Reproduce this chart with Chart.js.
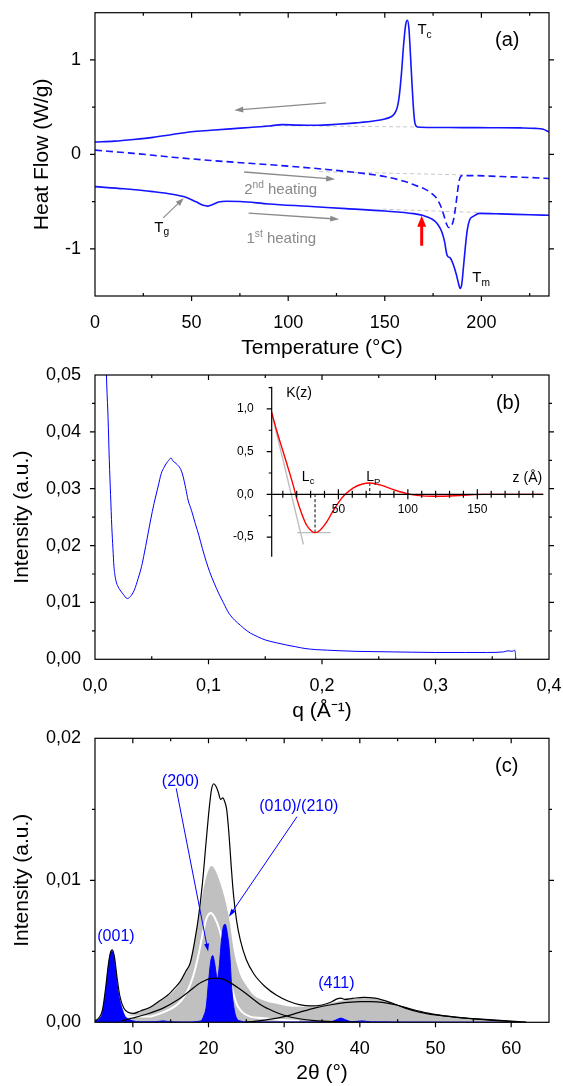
<!DOCTYPE html>
<html>
<head>
<meta charset="utf-8">
<script src="https://cdn.jsdelivr.net/npm/chart.js@4.4.1/dist/chart.umd.min.js"></script>
<style>
  html, body { margin: 0; padding: 0; background: #fff; }
  #wrap { position: relative; width: 563px; height: 1086px; overflow: hidden; }
  canvas { position: absolute; left: 0; }
</style>
</head>
<body>
<div id="wrap">
  <canvas id="dsc" width="563" height="362" style="top:0"></canvas>
  <canvas id="saxs" width="563" height="363" style="top:362px"></canvas>
  <canvas id="inset" width="333" height="185" style="top:380px;left:220px"></canvas>
  <canvas id="waxs" width="563" height="361" style="top:725px"></canvas>
</div>
<script>
// ---- (a) DSC data: temperature (°C) / heat flow (W/g)
const coolT  = [0, 10, 20, 30, 40, 50, 60, 70, 80, 90, 97, 105, 115, 125, 135, 145, 150, 153, 155, 156.5, 157.5, 158.6, 159.7, 160.8, 161.7, 162.5, 163.3, 164.0, 164.8, 165.6, 166.9, 175, 190, 205, 220, 228, 232, 235];
const coolHF = [0.13, 0.14, 0.158, 0.18, 0.21, 0.24, 0.255, 0.27, 0.285, 0.30, 0.315, 0.31, 0.308, 0.318, 0.333, 0.355, 0.375, 0.395, 0.43, 0.5, 0.62, 0.85, 1.15, 1.37, 1.42, 1.33, 1.05, 0.78, 0.5, 0.33, 0.29, 0.285, 0.283, 0.282, 0.28, 0.275, 0.265, 0.236];

const heat2T  = [0, 20, 40, 60, 80, 100, 120, 140, 150, 160, 166, 170, 174, 177, 179, 180.5, 182, 183, 184, 185.5, 186.5, 187.5, 188.3, 189, 190, 195, 210, 225, 235];
const heat2HF = [0.045, 0.01, -0.03, -0.065, -0.095, -0.125, -0.16, -0.205, -0.235, -0.285, -0.33, -0.36, -0.41, -0.47, -0.55, -0.64, -0.74, -0.775, -0.77, -0.7, -0.58, -0.42, -0.3, -0.245, -0.225, -0.225, -0.235, -0.245, -0.255];

const heat1T  = [0, 15, 30, 40, 47, 52, 56, 58.5, 61, 64, 68, 75, 90, 110, 130, 150, 165, 170, 174, 177, 179.5, 181, 182, 182.6, 184, 185.5, 187, 188.2, 189, 189.8, 190.7, 191.7, 192.7, 194, 196, 199, 210, 225, 235];
const heat1HF = [-0.342, -0.365, -0.395, -0.423, -0.455, -0.5, -0.54, -0.548, -0.53, -0.505, -0.497, -0.5, -0.525, -0.55, -0.575, -0.6, -0.628, -0.648, -0.68, -0.73, -0.82, -0.93, -1.05, -1.08, -1.1, -1.17, -1.27, -1.37, -1.42, -1.38, -1.2, -0.98, -0.8, -0.69, -0.655, -0.625, -0.63, -0.64, -0.645];

const coolBaseT = [87, 167],      coolBaseHF = [0.305, 0.29];
const heat2BaseT = [116, 192],    heat2BaseHF = [-0.183, -0.218];
const heat1BaseT = [148.8, 198.8], heat1BaseHF = [-0.581, -0.616];

const dscXTicks = [0, 50, 100, 150, 200];
const dscYTicks = [-1, 0, 1];

// ---- (b) SAXS data: q (1/Å) / intensity
const saxsQ = [0.0095, 0.0101, 0.0115, 0.0126, 0.0137, 0.0148, 0.0158, 0.0167, 0.0178, 0.019, 0.0205, 0.022, 0.025, 0.0284, 0.031, 0.0347, 0.038, 0.041, 0.0435, 0.0457, 0.049, 0.052, 0.0555, 0.0584, 0.061, 0.063, 0.065, 0.0669, 0.069, 0.0705, 0.0726, 0.075, 0.0773, 0.08, 0.082, 0.085, 0.0883, 0.0915, 0.0946, 0.098, 0.101, 0.105, 0.109, 0.113, 0.118, 0.123, 0.128, 0.132, 0.137, 0.143, 0.15, 0.16, 0.169, 0.177, 0.185, 0.195, 0.205, 0.216, 0.23, 0.245, 0.263, 0.28, 0.3, 0.3265, 0.345, 0.36, 0.364, 0.3675, 0.3697, 0.3705, 0.3707];
const saxsI = [0.056, 0.05, 0.0425, 0.035, 0.029, 0.0233, 0.0195, 0.0163, 0.0145, 0.0134, 0.0127, 0.0122, 0.0114, 0.0107, 0.011, 0.0122, 0.0142, 0.0163, 0.0187, 0.021, 0.0245, 0.0274, 0.0303, 0.0327, 0.0338, 0.0345, 0.035, 0.0354, 0.0348, 0.0346, 0.0342, 0.0336, 0.0324, 0.03, 0.028, 0.0262, 0.0239, 0.0218, 0.0195, 0.0172, 0.0154, 0.0134, 0.0116, 0.01, 0.0081, 0.0069, 0.006, 0.0053, 0.0046, 0.004, 0.0034, 0.0029, 0.0025, 0.0022, 0.0019, 0.0017, 0.0016, 0.0015, 0.0014, 0.00135, 0.0013, 0.00125, 0.0012, 0.0012, 0.0012, 0.0013, 0.0015, 0.0014, 0.0016, 0.0008, 0.0];
const saxsXTicks = [0, 0.1, 0.2, 0.3, 0.4];
const saxsYTicks = [0, 0.01, 0.02, 0.03, 0.04, 0.05];

// inset: correlation function K(z)
const corrZ = [2, 5.5, 10.3, 15.1, 17.5, 20, 23.6, 27.2, 30.8, 33.2, 36.8, 41.6, 46.4, 51.2, 55, 60.8, 66.8, 72.8, 80, 89.7, 99.3, 106.5, 118.5, 130.5, 142.5, 154.6, 170, 197.5];
const corrK = [0.96, 0.75, 0.495, 0.24, 0.105, -0.05, -0.226, -0.362, -0.432, -0.448, -0.42, -0.323, -0.187, -0.07, 0, 0.075, 0.118, 0.132, 0.11, 0.055, 0.008, -0.012, -0.023, -0.02, -0.008, 0, 0, 0];
const tangZ = [2, 24.8],   tangK = [0.95, -0.585];
const minZ = [20.4, 44.5], minK = [-0.448, -0.448];
const lcZ = [33.2, 33.2],  lcK = [0, -0.448];
const lpZ = [72.6, 72.6],  lpK = [0.132, 0];
const insetXTicks = [50, 100, 150];
const insetYTicks = [-0.5, 0, 0.5, 1.0];

// ---- (c) WAXS data: 2θ (°) / intensity
const totT = [5, 5.5, 6, 6.4, 6.8, 7.1, 7.3, 7.6, 7.9, 8.3, 8.8, 9.4, 10.1, 11, 12.3, 13.5, 14.6, 15.5, 16.3, 17, 17.6, 18.2, 18.7, 19.2, 19.7, 20.1, 20.4, 20.7, 21.0, 21.3, 21.6, 21.9, 22.1, 22.4, 22.7, 23.0, 23.3, 23.7, 24.2, 25, 26, 27.5, 29, 30.5, 32, 33.5, 35, 36.3, 37, 37.5, 38, 39, 40.5, 42, 44, 46, 48, 50, 53, 56, 59, 62];
const totI = [0.0001, 0.0003, 0.0009, 0.0024, 0.0042, 0.005, 0.0051, 0.0045, 0.0032, 0.0018, 0.001, 0.0007, 0.00063, 0.0008, 0.00106, 0.0015, 0.0019, 0.0024, 0.0029, 0.0036, 0.0042, 0.0058, 0.0075, 0.0098, 0.0128, 0.0151, 0.0164, 0.0168, 0.0166, 0.0162, 0.0157, 0.0158, 0.0156, 0.015, 0.0133, 0.011, 0.009, 0.0072, 0.0058, 0.0044, 0.0034, 0.0025, 0.0019, 0.0015, 0.00125, 0.00115, 0.00122, 0.00145, 0.00165, 0.0017, 0.00162, 0.00168, 0.00176, 0.0017, 0.0014, 0.001, 0.0007, 0.00052, 0.00035, 0.00022, 0.00012, 0.0];

const amT = [5, 6, 7, 8, 9, 10, 11, 12, 13, 14, 15, 16, 16.8, 17.5, 18.2, 18.9, 19.5, 20.0, 20.4, 20.8, 21.3, 21.8, 22.3, 22.8, 23.3, 23.8, 24.3, 25, 26, 27.5, 29, 31, 33, 35, 37, 38.5, 40, 41.5, 43, 45, 47, 49, 52, 55, 58, 62];
const amI = [0, 0.0001, 0.0002, 0.0003, 0.0004, 0.0006, 0.0008, 0.001, 0.0013, 0.0016, 0.002, 0.0026, 0.0033, 0.0042, 0.0058, 0.0081, 0.0098, 0.0107, 0.011, 0.0108, 0.0102, 0.0094, 0.0084, 0.0071, 0.0052, 0.004, 0.0032, 0.0026, 0.0019, 0.0015, 0.0013, 0.0011, 0.0011, 0.0012, 0.00145, 0.0016, 0.0017, 0.0017, 0.0015, 0.0012, 0.0009, 0.0006, 0.0004, 0.00025, 0.00012, 0];

const whT = [8.5, 10, 12, 14, 15.5, 16.5, 17.3, 18, 18.7, 19.3, 19.8, 20.3, 20.8, 21.4, 22, 22.6, 23.2, 23.8, 24.5, 25.5, 27, 29, 32];
const whI = [0.0004, 0.0004, 0.0004, 0.0007, 0.0011, 0.0016, 0.0023, 0.0033, 0.0048, 0.0064, 0.0074, 0.0077, 0.0074, 0.0066, 0.0053, 0.0037, 0.0022, 0.0012, 0.0007, 0.0004, 0.0003, 0.0002, 0.0001];

const halo1T = [8.5, 10, 12, 14, 16, 17.5, 19, 20.5, 21.5, 22.5, 24, 25.5, 27, 28.5, 30, 32, 34, 37, 40];
const halo1I = [0.0001, 0.0003, 0.0006, 0.001, 0.0016, 0.0022, 0.0028, 0.0031, 0.0031, 0.0029, 0.0024, 0.0018, 0.0012, 0.0008, 0.0005, 0.00025, 0.00012, 0.00004, 0];
const halo2T = [25, 28, 30, 32, 34, 36, 38, 40, 41.5, 43, 45, 47, 49, 52, 55, 58, 62];
const halo2I = [0, 0.0002, 0.0004, 0.0007, 0.001, 0.00122, 0.00138, 0.00145, 0.00146, 0.0014, 0.0012, 0.0009, 0.00065, 0.0004, 0.00024, 0.00012, 0];

const crysT = [5, 5.5, 6, 6.4, 6.8, 7.1, 7.3, 7.5, 7.8, 8.1, 8.5, 9, 9.5, 10, 11, 13, 14, 15, 17, 19, 19.4, 19.7, 20, 20.3, 20.55, 20.8, 21.05, 21.2, 21.4, 21.7, 22, 22.2, 22.5, 22.8, 23.1, 23.4, 23.7, 24.2, 25, 30, 36, 37, 37.5, 38, 39, 40.3, 41.5, 45, 62];
const crysI = [0.0001, 0.0002, 0.0007, 0.0021, 0.004, 0.0049, 0.005, 0.0046, 0.0032, 0.002, 0.0011, 0.0004, 0.0002, 0.0001, 0.00003, 0.00004, 0.0001, 0.00003, 0.00002, 0.0001, 0.0005, 0.0011, 0.0028, 0.0043, 0.0047, 0.0042, 0.0033, 0.0031, 0.0038, 0.0057, 0.0068, 0.0069, 0.0062, 0.0048, 0.0022, 0.0009, 0.0003, 0.0001, 0.00003, 0.00002, 0.00003, 0.0002, 0.0003, 0.0002, 0.00004, 0.0001, 0.00003, 0.00002, 0];

const waxsXTicks = [10, 20, 30, 40, 50, 60];
const waxsYTicks = [0, 0.01, 0.02];

// ---- helpers
const FONT = '"Liberation Sans", Arial, Helvetica, sans-serif';
Chart.defaults.font.family = FONT;
Chart.defaults.color = '#000';

function pts(xs, ys) { return xs.map((x, i) => ({ x, y: ys[i] })); }
const comma = d => v => v.toFixed(d).replace('.', ',');

function line(xs, ys, color, width, extra) {
  return Object.assign({
    data: pts(xs, ys), borderColor: color, borderWidth: width,
    pointRadius: 0, fill: false, cubicInterpolationMode: 'monotone'
  }, extra || {});
}

function xAxis(min, max, ticks, fmt, title, h, tpad) {
  return {
    type: 'linear', min, max,
    grid: { display: false }, border: { display: false },
    afterBuildTicks: s => { s.ticks = ticks.map(v => ({ value: v })); },
    afterFit: s => { s.height = h; s.paddingLeft = 0; s.paddingRight = 0; },
    ticks: { font: { size: 18 }, padding: 8, maxRotation: 0, autoSkip: false, callback: fmt },
    title: { display: true, text: title, font: { size: 21 }, padding: { top: 0, bottom: tpad } }
  };
}
function yAxis(min, max, ticks, fmt, title, tpad) {
  return {
    type: 'linear', min, max,
    grid: { display: false }, border: { display: false },
    afterBuildTicks: s => { s.ticks = ticks.map(v => ({ value: v })); },
    afterFit: s => { s.width = 95; s.paddingTop = 0; s.paddingBottom = 0; },
    ticks: { font: { size: 18 }, padding: 6, autoSkip: false, callback: fmt },
    title: { display: true, text: title, font: { size: 21 }, padding: { top: tpad, bottom: 0 } }
  };
}

function isMajor(v, step) { const r = v / step; return Math.abs(r - Math.round(r)) < 1e-6; }

// frame with Origin-like ticks on all four sides
function frame(cfg) {
  return {
    id: 'frame',
    afterDraw(chart) {
      const { ctx, chartArea: a, scales: { x, y } } = chart;
      ctx.save();
      ctx.strokeStyle = '#000';
      ctx.lineWidth = 1.2;
      ctx.strokeRect(a.left, a.top, a.right - a.left, a.bottom - a.top);
      ctx.beginPath();
      const n = Math.round((x.max - x.min) / cfg.xMinor);
      for (let i = 0; i <= n + 1; i++) {
        const v = Math.ceil(x.min / cfg.xMinor - 1e-9) * cfg.xMinor + i * cfg.xMinor;
        if (v > x.max + 1e-9) break;
        const px = x.getPixelForValue(v);
        if (px < a.left + 1 || px > a.right - 1) continue;
        const maj = isMajor(v, cfg.xMajor);
        if (maj) { ctx.moveTo(px, a.bottom); ctx.lineTo(px, a.bottom + 5); }
        else { ctx.moveTo(px, a.bottom); ctx.lineTo(px, a.bottom - 3); }
        ctx.moveTo(px, a.top); ctx.lineTo(px, a.top + (maj ? 5 : 3));
      }
      const m = Math.round((y.max - y.min) / cfg.yMinor);
      for (let i = 0; i <= m + 1; i++) {
        const v = Math.ceil(y.min / cfg.yMinor - 1e-9) * cfg.yMinor + i * cfg.yMinor;
        if (v > y.max + 1e-9) break;
        const py = y.getPixelForValue(v);
        if (py < a.top + 1 || py > a.bottom - 1) continue;
        const L = isMajor(v, cfg.yMajor) ? 5 : 3;
        ctx.moveTo(a.left, py); ctx.lineTo(a.left - L, py);
        ctx.moveTo(a.right, py); ctx.lineTo(a.right + L, py);
      }
      ctx.stroke();
      ctx.restore();
    }
  };
}

function drawArrow(ctx, x1, y1, x2, y2, color, lw, hl, hw) {
  const ang = Math.atan2(y2 - y1, x2 - x1), c = Math.cos(ang), s = Math.sin(ang);
  ctx.strokeStyle = color; ctx.fillStyle = color; ctx.lineWidth = lw;
  ctx.beginPath(); ctx.moveTo(x1, y1); ctx.lineTo(x2 - c * hl * 0.8, y2 - s * hl * 0.8); ctx.stroke();
  ctx.beginPath(); ctx.moveTo(x2, y2);
  ctx.lineTo(x2 - hl * c + hw / 2 * s, y2 - hl * s - hw / 2 * c);
  ctx.lineTo(x2 - hl * c - hw / 2 * s, y2 - hl * s + hw / 2 * c);
  ctx.closePath(); ctx.fill();
}

function drawRuns(ctx, x, y, parts, size, color, align) {
  const fs = p => (p[1] ? size * 0.68 : size) + 'px ' + FONT;
  const w = parts.map(p => { ctx.font = fs(p); return ctx.measureText(p[0]).width; });
  let cx = align === 'center' ? x - w.reduce((a, b) => a + b, 0) / 2 : x;
  ctx.fillStyle = color; ctx.textBaseline = 'middle'; ctx.textAlign = 'left';
  parts.forEach((p, i) => {
    ctx.font = fs(p);
    const dy = p[1] === 'sub' ? size * 0.32 : p[1] === 'sup' ? -size * 0.34 : 0;
    ctx.fillText(p[0], cx, y + dy);
    cx += w[i];
  });
}

// arrows and labels placed in data coordinates
function notes(cfg) {
  return {
    id: 'notes',
    afterDatasetsDraw(chart) {
      const { ctx, scales: { x, y } } = chart;
      const X = v => x.getPixelForValue(v), Y = v => y.getPixelForValue(v);
      ctx.save();
      (cfg.arrows || []).forEach(a => drawArrow(ctx, X(a.from[0]), Y(a.from[1]), X(a.to[0]), Y(a.to[1]), a.color, a.lw, a.hl, a.hw));
      (cfg.texts || []).forEach(t => drawRuns(ctx, X(t.at[0]), Y(t.at[1]), t.parts, t.size, t.color || '#000', t.align));
      ctx.restore();
    }
  };
}

const common = {
  responsive: false, animation: false, events: [],
  plugins: { legend: { display: false }, tooltip: { enabled: false } }
};

// ---- (a)
const BLUE = '#1414ff', GREY = '#8a8a8a', BASE = '#c8c8c8';
new Chart(document.getElementById('dsc'), {
  type: 'line',
  data: { datasets: [
    line(coolT, coolHF, BLUE, 1.6, { order: 1 }),
    line(heat2T, heat2HF, BLUE, 1.6, { order: 1, borderDash: [7, 4] }),
    line(heat1T, heat1HF, BLUE, 1.6, { order: 1 }),
    line(coolBaseT, coolBaseHF, BASE, 1, { order: 2, borderDash: [4, 3] }),
    line(heat2BaseT, heat2BaseHF, BASE, 1, { order: 2, borderDash: [4, 3] }),
    line(heat1BaseT, heat1BaseHF, BASE, 1, { order: 2, borderDash: [4, 3] })
  ] },
  options: Object.assign({}, common, {
    layout: { padding: { top: 12.7, right: 14, bottom: 0, left: 0 } },
    scales: {
      x: xAxis(0, 235, dscXTicks, v => String(v), 'Temperature (°C)', 66, 1.4),
      y: yAxis(-1.5, 1.5, dscYTicks, v => String(v), 'Heat Flow (W/g)', 29.4)
    }
  }),
  plugins: [frame({ xMinor: 25, xMajor: 50, yMinor: 0.5, yMajor: 1 }), notes({
    arrows: [
      { from: [119.5, 0.546], to: [72.1, 0.468], color: GREY, lw: 1.3, hl: 9, hw: 6 },
      { from: [77.2, -0.187], to: [124.3, -0.264], color: GREY, lw: 1.3, hl: 9, hw: 6 },
      { from: [79.5, -0.623], to: [126.4, -0.687], color: GREY, lw: 1.3, hl: 9, hw: 6 },
      { from: [35.3, -0.673], to: [45.9, -0.465], color: GREY, lw: 1.2, hl: 8, hw: 6 },
      { from: [169.1, -0.968], to: [169.1, -0.651], color: '#ff0000', lw: 3, hl: 11, hw: 9 }
    ],
    texts: [
      { at: [77.2, -0.38], parts: [['2'], ['nd', 'sup'], [' heating']], size: 15, color: GREY },
      { at: [78.4, -0.898], parts: [['1'], ['st', 'sup'], [' heating']], size: 15, color: GREY },
      { at: [30.7, -0.778], parts: [['T'], ['g', 'sub']], size: 15 },
      { at: [166.9, 1.313], parts: [['T'], ['c', 'sub']], size: 15 },
      { at: [195.3, -1.31], parts: [['T'], ['m', 'sub']], size: 15 },
      { at: [213.4, 1.208], parts: [['(a)']], size: 20, align: 'center' }
    ]
  })]
});

// ---- (b)
new Chart(document.getElementById('saxs'), {
  type: 'line',
  data: { datasets: [ line(saxsQ, saxsI, '#0000ff', 1) ] },
  options: Object.assign({}, common, {
    layout: { padding: { top: 13, right: 14, bottom: 0, left: 0 } },
    scales: {
      x: xAxis(0, 0.4, saxsXTicks, comma(1), 'q (Å⁻¹)', 65.7, 0.7),
      y: yAxis(0, 0.05, saxsYTicks, comma(2), 'Intensity (a.u.)', 9.4)
    }
  }),
  plugins: [frame({ xMinor: 0.05, xMajor: 0.1, yMinor: 0.005, yMajor: 0.01 }), notes({
    texts: [{ at: [0.364, 0.045], parts: [['(b)']], size: 20, align: 'center' }]
  })]
});

// inset axes: y axis at left, z axis through K = 0
const insetAxes = {
  id: 'insetAxes',
  afterDraw(chart) {
    const { ctx, chartArea: a, scales: { x, y } } = chart;
    const y0 = y.getPixelForValue(0);
    ctx.save();
    ctx.strokeStyle = '#000'; ctx.lineWidth = 1.2;
    ctx.beginPath();
    ctx.moveTo(a.left, a.top); ctx.lineTo(a.left, a.bottom);
    ctx.moveTo(a.left, y0); ctx.lineTo(a.right, y0);
    for (let v = -0.5; v <= 1.25; v += 0.25) {
      const py = y.getPixelForValue(v), L = isMajor(v, 0.5) ? 5 : 3;
      ctx.moveTo(a.left, py); ctx.lineTo(a.left - L, py);
    }
    for (let v = 10; v <= 190; v += 10) {
      const px = x.getPixelForValue(v), L = isMajor(v, 50) ? 5 : 3.5;
      ctx.moveTo(px, y0 - L); ctx.lineTo(px, y0 + L);
    }
    ctx.stroke();
    ctx.fillStyle = '#000'; ctx.font = '12px ' + FONT;
    ctx.textAlign = 'center'; ctx.textBaseline = 'middle';
    insetXTicks.forEach(v => ctx.fillText(String(v), x.getPixelForValue(v), y0 + 15));
    ctx.restore();
  }
};

new Chart(document.getElementById('inset'), {
  type: 'line',
  data: { datasets: [
    line(corrZ, corrK, '#ff0000', 1.4, { order: 1 }),
    line(tangZ, tangK, '#bdbdbd', 1.4, { order: 2, cubicInterpolationMode: 'default' }),
    line(minZ, minK, '#bdbdbd', 1.4, { order: 2 }),
    line(lcZ, lcK, '#000', 1, { order: 1, borderDash: [3, 2] }),
    line(lpZ, lpK, '#000', 1, { order: 1, borderDash: [3, 2] })
  ] },
  options: Object.assign({}, common, {
    layout: { padding: { top: 6.7, right: 9.7, bottom: 8.3, left: 0 } },
    scales: {
      x: { type: 'linear', min: 2, max: 197.5, display: false },
      y: {
        type: 'linear', min: -0.73, max: 1.26,
        grid: { display: false }, border: { display: false },
        afterBuildTicks: s => { s.ticks = insetYTicks.map(v => ({ value: v })); },
        afterFit: s => { s.width = 51.7; s.paddingTop = 0; s.paddingBottom = 0; },
        ticks: { font: { size: 12 }, padding: 10, autoSkip: false, callback: comma(1) }
      }
    }
  }),
  plugins: [insetAxes, notes({
    texts: [
      { at: [12.4, 1.186], parts: [['K(z)']], size: 14 },
      { at: [175.4, 0.184], parts: [['z (Å)']], size: 14 },
      { at: [23.7, 0.2], parts: [['L'], ['c', 'sub']], size: 14 },
      { at: [70.1, 0.196], parts: [['L'], ['P', 'sub']], size: 14 }
    ]
  })]
});

// ---- (c)
const PURE = '#0000ff';
new Chart(document.getElementById('waxs'), {
  type: 'line',
  data: { datasets: [
    line(amT, amI, '#c0c0c0', 0, { order: 5, fill: 'origin', backgroundColor: '#c0c0c0' }),
    line(whT, whI, '#ffffff', 2, { order: 4 }),
    line(crysT, crysI, PURE, 1, { order: 3, fill: 'origin', backgroundColor: PURE }),
    line(halo1T, halo1I, '#000', 1.2, { order: 2 }),
    line(halo2T, halo2I, '#000', 1.2, { order: 2 }),
    line(totT, totI, '#000', 1.2, { order: 1 })
  ] },
  options: Object.assign({}, common, {
    layout: { padding: { top: 13.3, right: 14, bottom: 0, left: 0 } },
    scales: {
      x: xAxis(5, 65, waxsXTicks, v => String(v), '2θ (°)', 63.7, 0),
      y: yAxis(0, 0.02, waxsYTicks, comma(2), 'Intensity (a.u.)', 9.4)
    }
  }),
  plugins: [frame({ xMinor: 5, xMajor: 10, yMinor: 0.005, yMajor: 0.01 }), notes({
    arrows: [
      { from: [15.73, 0.01648], to: [19.95, 0.00498], color: PURE, lw: 1, hl: 8, hw: 5 },
      { from: [31.7, 0.01448], to: [22.7, 0.00744], color: PURE, lw: 1, hl: 8, hw: 5 }
    ],
    texts: [
      { at: [7.77, 0.00603], parts: [['(001)']], size: 16, color: PURE, align: 'center' },
      { at: [16.3, 0.01695], parts: [['(200)']], size: 16, color: PURE, align: 'center' },
      { at: [31.94, 0.01519], parts: [['(010)/(210)']], size: 16, color: PURE, align: 'center' },
      { at: [36.9, 0.00275], parts: [['(411)']], size: 16, color: PURE, align: 'center' },
      { at: [59.4, 0.018], parts: [['(c)']], size: 20, align: 'center' }
    ]
  })]
});
</script>
</body>
</html>
